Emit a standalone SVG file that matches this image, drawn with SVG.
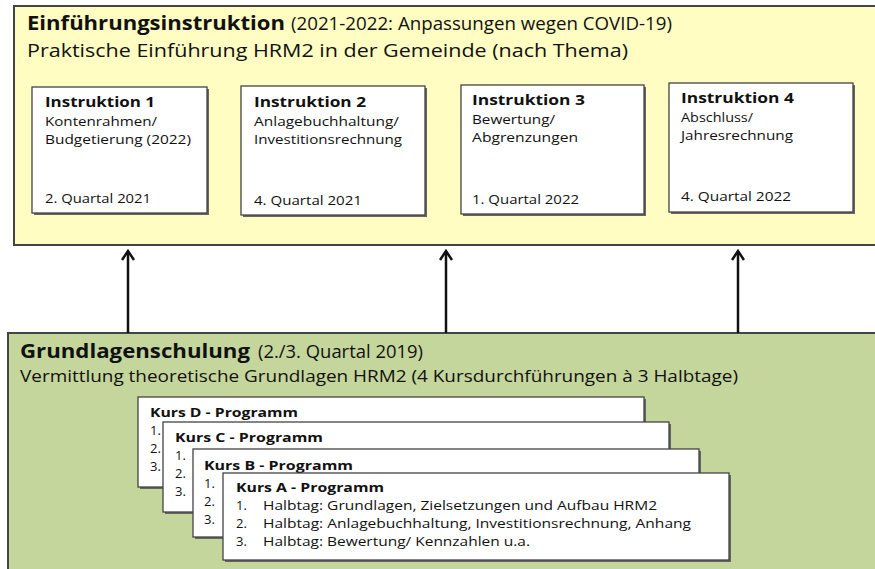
<svg xmlns="http://www.w3.org/2000/svg" width="875" height="569" viewBox="0 0 875 569">
<defs>
<style>
text{font-family:"Open Sans","Noto Sans","DejaVu Sans",sans-serif;fill:#111}
.h{font-size:19px}
.b{font-weight:bold}
.t{font-size:15px;font-weight:bold}
.s{font-size:13px}
.k{font-size:13px}
.kb{font-size:13px;font-weight:bold}
.panel{stroke:#444;stroke-width:2}
.box{fill:#fff;stroke:#444;stroke-width:1.3}
.sh{fill:#666}
.conn{stroke:#111;stroke-width:2.5;fill:none}
</style>
<marker id="ah" viewBox="0 0 12 14" refX="10" refY="7" markerWidth="12" markerHeight="14" markerUnits="userSpaceOnUse" orient="auto">
<path d="M1,1 L10,7 L1,13" fill="none" stroke="#111" stroke-width="2.5"/>
</marker>
</defs>
<rect width="875" height="569" fill="#fff"/>

<g id="einfuehrung">
<rect class="panel" x="14" y="6" width="870" height="239" fill="#FFFDC2"/>
<text class="h b" x="27" y="30" textLength="258" lengthAdjust="spacingAndGlyphs">Einführungsinstruktion</text>
<text class="h" x="291" y="30" textLength="381" lengthAdjust="spacingAndGlyphs">(2021-2022: Anpassungen wegen COVID-19)</text>
<text class="h" x="27" y="57" textLength="601" lengthAdjust="spacingAndGlyphs">Praktische Einführung HRM2 in der Gemeinde (nach Thema)</text>
</g>

<g id="instruktion1">
<rect class="sh" x="34" y="89" width="175" height="126"/>
<rect class="box" x="32" y="87" width="175" height="126"/>
<text class="t" x="45" y="107" textLength="110" lengthAdjust="spacingAndGlyphs">Instruktion 1</text>
<text class="s" x="45" y="126" textLength="112" lengthAdjust="spacingAndGlyphs">Kontenrahmen/</text>
<text class="s" x="45" y="144" textLength="146" lengthAdjust="spacingAndGlyphs">Budgetierung (2022)</text>
<text class="s" x="45" y="203" textLength="106" lengthAdjust="spacingAndGlyphs">2. Quartal 2021</text>
</g>
<g id="instruktion2">
<rect class="sh" x="243" y="88" width="184" height="129"/>
<rect class="box" x="241" y="86" width="184" height="129"/>
<text class="t" x="254" y="107" textLength="112" lengthAdjust="spacingAndGlyphs">Instruktion 2</text>
<text class="s" x="254" y="126" textLength="145" lengthAdjust="spacingAndGlyphs">Anlagebuchhaltung/</text>
<text class="s" x="254" y="144" textLength="148" lengthAdjust="spacingAndGlyphs">Investitionsrechnung</text>
<text class="s" x="254" y="205" textLength="108" lengthAdjust="spacingAndGlyphs">4. Quartal 2021</text>
</g>
<g id="instruktion3">
<rect class="sh" x="463" y="87" width="183" height="129"/>
<rect class="box" x="461" y="85" width="183" height="129"/>
<text class="t" x="472" y="105" textLength="113" lengthAdjust="spacingAndGlyphs">Instruktion 3</text>
<text class="s" x="472" y="124" textLength="83" lengthAdjust="spacingAndGlyphs">Bewertung/</text>
<text class="s" x="472" y="142" textLength="106" lengthAdjust="spacingAndGlyphs">Abgrenzungen</text>
<text class="s" x="472" y="204" textLength="107" lengthAdjust="spacingAndGlyphs">1. Quartal 2022</text>
</g>
<g id="instruktion4">
<rect class="sh" x="671" y="85" width="184" height="129"/>
<rect class="box" x="669" y="83" width="184" height="129"/>
<text class="t" x="681" y="103" textLength="113" lengthAdjust="spacingAndGlyphs">Instruktion 4</text>
<text class="s" x="681" y="122" textLength="72" lengthAdjust="spacingAndGlyphs">Abschluss/</text>
<text class="s" x="681" y="140" textLength="112" lengthAdjust="spacingAndGlyphs">Jahresrechnung</text>
<text class="s" x="681" y="201" textLength="110" lengthAdjust="spacingAndGlyphs">4. Quartal 2022</text>
</g>

<g id="grundlagen">
<rect class="panel" x="8" y="333" width="880" height="250" fill="#C5D69C"/>
<text class="h b" x="20" y="358" textLength="230" lengthAdjust="spacingAndGlyphs">Grundlagenschulung</text>
<text class="h" x="258" y="358" textLength="165" lengthAdjust="spacingAndGlyphs">(2./3. Quartal 2019)</text>
<text class="s" x="20" y="382" style="font-size:17px" textLength="718" lengthAdjust="spacingAndGlyphs">Vermittlung theoretische Grundlagen HRM2  (4 Kursdurchführungen à 3 Halbtage)</text>
</g>

<g id="kursD">
<rect class="sh" x="140" y="399" width="506" height="90"/>
<rect class="box" x="138" y="397" width="506" height="90"/>
<text class="kb" x="150" y="417" textLength="148" lengthAdjust="spacingAndGlyphs">Kurs D - Programm</text>
<text class="k" x="150" y="435">1.</text>
<text class="k" x="150" y="453">2.</text>
<text class="k" x="150" y="471">3.</text>
</g>
<g id="kursC">
<rect class="sh" x="165" y="424" width="506" height="90"/>
<rect class="box" x="163" y="422" width="506" height="90"/>
<text class="kb" x="175" y="442" textLength="148" lengthAdjust="spacingAndGlyphs">Kurs C - Programm</text>
<text class="k" x="175" y="460">1.</text>
<text class="k" x="175" y="478">2.</text>
<text class="k" x="175" y="496">3.</text>
</g>
<g id="kursB">
<rect class="sh" x="195" y="451" width="506" height="88"/>
<rect class="box" x="193" y="449" width="506" height="88"/>
<text class="kb" x="204" y="470" textLength="149" lengthAdjust="spacingAndGlyphs">Kurs B - Programm</text>
<text class="k" x="204" y="488">1.</text>
<text class="k" x="204" y="506">2.</text>
<text class="k" x="204" y="524">3.</text>
</g>
<g id="kursA">
<rect class="sh" x="225" y="475" width="506" height="87"/>
<rect class="box" x="223" y="473" width="506" height="87"/>
<text class="kb" x="236" y="492" textLength="148" lengthAdjust="spacingAndGlyphs">Kurs A - Programm</text>
<text class="k" x="236" y="510">1.</text>
<text class="k" x="263" y="510" textLength="394" lengthAdjust="spacingAndGlyphs">Halbtag: Grundlagen, Zielsetzungen und Aufbau HRM2</text>
<text class="k" x="236" y="528">2.</text>
<text class="k" x="263" y="528" textLength="428" lengthAdjust="spacingAndGlyphs">Halbtag: Anlagebuchhaltung, Investitionsrechnung, Anhang</text>
<text class="k" x="236" y="546">3.</text>
<text class="k" x="263" y="546" textLength="267" lengthAdjust="spacingAndGlyphs">Halbtag: Bewertung/ Kennzahlen u.a.</text>
</g>

<g id="connectors">
<line class="conn" x1="128" y1="333" x2="128" y2="251" marker-end="url(#ah)"/>
<line class="conn" x1="446" y1="333" x2="446" y2="251" marker-end="url(#ah)"/>
<line class="conn" x1="738" y1="333" x2="738" y2="251" marker-end="url(#ah)"/>
</g>
</svg>
